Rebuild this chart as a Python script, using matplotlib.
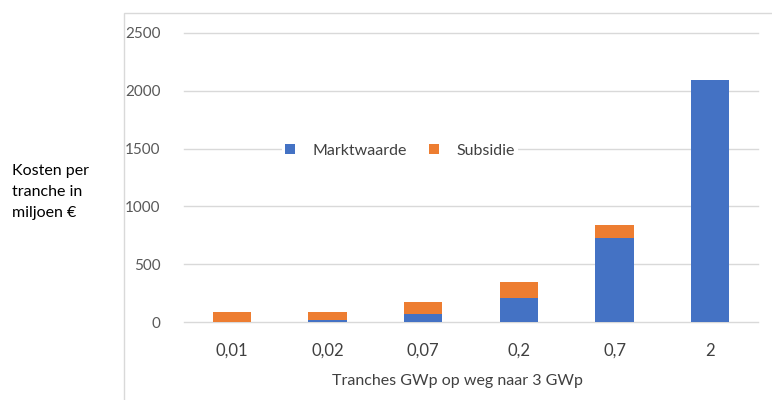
import matplotlib.pyplot as plt
from matplotlib.patches import Rectangle

plt.rcParams['font.family'] = ['Lato', 'DejaVu Sans']

tranches = ['0,01', '0,02', '0,07', '0,2', '0,7', '2']
marktwaarde = [4, 18, 67, 205, 724, 2095]
subsidie = [86, 72, 106, 144, 112, 0]

blue = '#4472C4'
orange = '#ED7D31'
grid = '#D9D9D9'

fig = plt.figure(figsize=(7.72, 4.0), dpi=100)
ax = fig.add_axes([184 / 772, 78 / 400, 574 / 772, 289 / 400])

x = range(len(tranches))
ax.bar(x, marktwaarde, width=0.4, color=blue, label='Marktwaarde', zorder=3)
ax.bar(x, subsidie, width=0.4, bottom=marktwaarde, color=orange, label='Subsidie', zorder=3)

ax.set_xlim(-0.5, len(tranches) - 0.5)
ax.set_ylim(0, 2500)
ax.set_yticks([0, 500, 1000, 1500, 2000, 2500])
ax.set_xticks(list(x))
ax.set_xticklabels(tranches)
ax.yaxis.grid(True, color=grid, linewidth=1, zorder=0)
ax.set_axisbelow(True)
for s in ax.spines.values():
    s.set_visible(False)
ax.tick_params(axis='both', length=0)
ax.tick_params(axis='y', colors='#595959', pad=17, labelsize=11)
ax.tick_params(axis='x', colors='#404040', pad=15, labelsize=12)
for gl in ax.get_ygridlines():
    gl.set_clip_on(False)

leg = ax.legend(loc='center', bbox_to_anchor=(0.376, 0.592), ncol=2, frameon=True,
                fontsize=11.5, handlelength=0.6, handleheight=0.6, columnspacing=1.4,
                borderpad=0.2, handletextpad=1.1)
leg.get_frame().set_facecolor('white')
leg.get_frame().set_edgecolor('none')
leg.get_frame().set_alpha(1)
for t in leg.get_texts():
    t.set_color('#404040')

fig.text(457 / 772, 1 - 381 / 400, 'Tranches GWp op weg naar 3 GWp', ha='center', va='center',
         fontsize=11.5, color='#404040')
fig.text(12 / 772, 1 - 192 / 400, 'Kosten per\ntranche in\nmiljoen €', ha='left', va='center',
         fontsize=11.5, color='black', linespacing=1.6)

# outer chart border (extends beyond the crop)
fig.patches.append(Rectangle((124 / 772, -0.1), 1.0, 1 - 13 / 400 + 0.1, transform=fig.transFigure,
                             fill=False, edgecolor=grid, linewidth=1))

fig.savefig('out.png', dpi=100)
